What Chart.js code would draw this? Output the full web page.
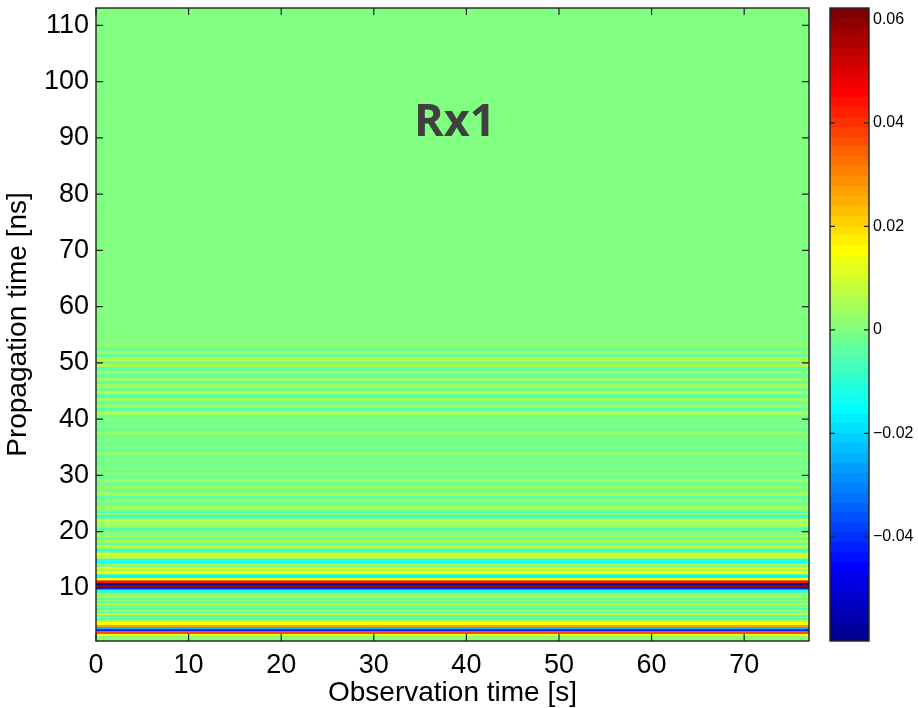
<!DOCTYPE html>
<html>
<head>
<meta charset="utf-8">
<script src="https://cdn.jsdelivr.net/npm/chart.js@4.4.1/dist/chart.umd.min.js"></script>
<style>
  body { margin: 0; background: #fff; }
  #wrap { position: relative; width: 918px; height: 708px; overflow: hidden; }
  #main { position: absolute; left: 0; top: 0; }
  #cbar { position: absolute; left: 820px; top: 0; }
  #rx { position: absolute; left: 414px; top: 96px; font: bold 45px 'Open Sans', sans-serif; line-height: 1; color: #404040; }
</style>
</head>
<body>
<div id="wrap">
  <canvas id="main" width="918" height="708" style="width:918px;height:708px"></canvas>
  <canvas id="cbar" width="98" height="708" style="width:98px;height:708px"></canvas>
  <div id="rx">Rx1</div>
</div>
<script>
// axis ranges
const obsTime = [0, 77];            // observation time window [s]
const delayRange = [0.57, 113.1];   // propagation time axis [ns]
const ampRange = [-0.0601, 0.0622]; // colour limits

const xTicks = [0, 10, 20, 30, 40, 50, 60, 70];
const yTicks = [10, 20, 30, 40, 50, 60, 70, 80, 90, 100, 110];
const cTicks = [-0.04, -0.02, 0, 0.02, 0.04, 0.06];

// impulse response profile: each band starts at the given delay [ns]
// and runs up to the start of the next one
const directStart = [0.57, 1.40, 1.90, 2.30, 2.70, 3.10, 3.40, 3.90, 4.30, 4.60, 4.90, 5.20,
  5.50, 5.80, 6.10, 6.40, 6.70, 7.00, 7.30, 7.60, 7.90, 8.20, 8.50, 8.80, 9.10, 9.40, 9.60,
  9.75, 10.05, 10.55, 10.95, 11.25, 11.45, 11.70, 12.30, 12.55, 13.05, 13.30, 13.70];
const directAmp = [0.002, 0.013, 0.036, -0.041, -0.022, 0.027, 0.015, 0.004, -0.004, 0.005, -0.003, 0.007,
  -0.004, 0.004, -0.005, 0.004, -0.002, 0.005, -0.004, 0.003, -0.004, 0.004, -0.003, 0.004, -0.008, -0.014, -0.025,
  -0.042, 0.057, -0.058, 0.045, 0.032, 0.016, -0.015, -0.006, 0.016, 0.003, 0.011, 0.001];

const echoStart = [14.00, 14.35, 14.65, 14.80, 15.15, 15.40, 15.80, 16.30, 16.60, 17.00, 17.30, 17.70,
  18.00, 18.50, 19.00, 19.50, 20.00, 20.35, 20.70, 21.10, 21.50, 21.80, 22.30, 22.55, 22.90, 23.35,
  23.70, 24.00];
const echoAmp = [0.004, -0.016, -0.003, -0.011, 0.002, 0.007, 0.011, 0.000, -0.010, 0.002, 0.008, -0.004,
  0.003, -0.003, 0.005, 0.001, -0.002, -0.006, 0.002, 0.005, 0.001, 0.009, -0.002, -0.009, 0.002, -0.005,
  0.001, 0.004];

const tailStart = [24.6, 25.2, 25.8, 26.4, 27.0, 27.6, 28.2, 28.8, 29.4, 30.0, 30.6, 31.2, 31.8, 32.4,
  33.0, 33.6, 34.2, 34.8, 35.4, 36.0, 36.6, 37.2, 37.8, 38.4, 39.0, 39.6, 40.2, 40.8, 41.4, 42.0, 42.6,
  43.2, 43.8, 44.4, 45.0, 45.6, 46.2, 46.8, 47.4, 48.0, 48.6, 49.2, 49.8, 50.4, 51.0, 51.6, 52.2, 52.8, 53.4];
const tailAmp = [-0.002, 0.002, -0.003, 0.003, -0.001, 0.002, -0.002, 0.003, -0.002, 0.001, -0.001, 0.001, -0.001, 0.001,
  -0.001, 0.002, -0.001, 0.001, -0.002, 0.001, -0.001, 0.002, -0.001, 0.001, -0.002, 0.001, -0.002, 0.003, -0.003, 0.004, -0.002,
  0.003, -0.003, 0.005, -0.002, 0.003, -0.004, 0.004, -0.003, 0.004, -0.004, 0.005, -0.002, 0.005, -0.003, 0.004, -0.002, 0.002, 0.0005];

const bandStart = directStart.concat(echoStart, tailStart);
const bandAmp = directAmp.concat(echoAmp, tailAmp);

// MATLAB style jet(64) lookup table
const jet64 = [];
(function () {
  const n = 16;
  const u = j => j < 1 ? 0 : j <= n ? j / n : j < 2 * n ? 1 : j < 3 * n ? (3 * n - j) / n : 0;
  for (let k = 1; k <= 64; k++) {
    const r = Math.round(u(k - 24) * 255), g = Math.round(u(k - 8) * 255), b = Math.round(u(k + 8) * 255);
    jet64.push(`rgb(${r},${g},${b})`);
  }
})();

function jetColor(v) {
  let i = Math.floor((v - ampRange[0]) / (ampRange[1] - ampRange[0]) * 64);
  return jet64[Math.max(0, Math.min(63, i))];
}

const FONT = 'Liberation Sans, Arial, sans-serif';

// paints the bands across the whole observation window
const bandsPlugin = {
  id: 'bands',
  beforeDatasetsDraw(chart) {
    const {ctx, chartArea: a, scales: {x, y}} = chart;
    ctx.save();
    ctx.beginPath();
    ctx.rect(a.left, a.top, a.width, a.height);
    ctx.clip();
    const x0 = Math.floor(x.getPixelForValue(obsTime[0]));
    const x1 = Math.ceil(x.getPixelForValue(obsTime[1]));
    bandStart.forEach((s, i) => {
      const e = i + 1 < bandStart.length ? bandStart[i + 1] : delayRange[1];
      const yb = Math.round(y.getPixelForValue(s));
      const yt = Math.round(y.getPixelForValue(e));
      ctx.fillStyle = jetColor(bandAmp[i]);
      ctx.fillRect(x0, yt, x1 - x0, yb - yt);
    });
    ctx.restore();
  }
};

// colour scale strip, one block per colormap entry
const stripPlugin = {
  id: 'strip',
  beforeDatasetsDraw(chart) {
    const {ctx, chartArea: a, scales: {y}} = chart;
    const step = (ampRange[1] - ampRange[0]) / 64;
    ctx.save();
    jet64.forEach((c, i) => {
      const yb = Math.round(y.getPixelForValue(ampRange[0] + i * step));
      const yt = Math.round(y.getPixelForValue(ampRange[0] + (i + 1) * step));
      ctx.fillStyle = c;
      ctx.fillRect(a.left, yt, a.width, yb - yt);
    });
    ctx.restore();
  }
};

// box around the axes with inward tick marks on every side
const boxPlugin = {
  id: 'box',
  afterDraw(chart, args, opts) {
    const {ctx, chartArea: a} = chart;
    ctx.save();
    ctx.strokeStyle = '#222';
    ctx.lineWidth = 1.2;
    ctx.beginPath();
    Object.values(chart.scales).forEach(s => {
      if (!s.options.display) return;
      s.ticks.forEach(t => {
        const p = s.getPixelForValue(t.value);
        if (s.isHorizontal()) {
          ctx.moveTo(p, a.bottom); ctx.lineTo(p, a.bottom - opts.len);
          ctx.moveTo(p, a.top); ctx.lineTo(p, a.top + opts.len);
        } else {
          ctx.moveTo(a.left, p); ctx.lineTo(a.left + opts.len, p);
          ctx.moveTo(a.right, p); ctx.lineTo(a.right - opts.len, p);
        }
      });
    });
    ctx.stroke();
    ctx.lineWidth = 1.4;
    ctx.strokeRect(a.left, a.top, a.width, a.height);
    ctx.restore();
  }
};

const fixTicks = list => s => { s.ticks = list.map(v => ({value: v})); };
const noPad = size => s => {
  if (s.isHorizontal()) s.height = size; else s.width = size;
  s.paddingLeft = s.paddingRight = s.paddingTop = s.paddingBottom = 0;
};

new Chart(document.getElementById('main'), {
  type: 'scatter',
  data: {datasets: []},
  options: {
    responsive: false,
    animation: false,
    layout: {padding: {left: 0, top: 8, right: 109, bottom: 0}},
    plugins: {legend: {display: false}, tooltip: {enabled: false}, box: {len: 7}},
    scales: {
      x: {
        type: 'linear', min: obsTime[0], max: obsTime[1],
        afterBuildTicks: fixTicks(xTicks),
        afterFit: noPad(67),
        grid: {display: false, drawTicks: false}, border: {display: false},
        ticks: {color: '#000', font: {family: FONT, size: 27}, padding: 8, maxRotation: 0, autoSkip: false},
        title: {display: true, text: 'Observation time [s]', color: '#000',
          font: {family: FONT, size: 28, lineHeight: 1}, padding: {top: 0, bottom: 1}}
      },
      y: {
        type: 'linear', min: delayRange[0], max: delayRange[1],
        afterBuildTicks: fixTicks(yTicks),
        afterFit: noPad(96),
        grid: {display: false, drawTicks: false}, border: {display: false},
        ticks: {color: '#000', font: {family: FONT, size: 27}, padding: 7, autoSkip: false},
        title: {display: true, text: 'Propagation time [ns]', color: '#000',
          font: {family: FONT, size: 28, lineHeight: 1}, padding: {top: 4, bottom: 0}}
      }
    }
  },
  plugins: [bandsPlugin, boxPlugin]
});

new Chart(document.getElementById('cbar'), {
  type: 'scatter',
  data: {datasets: []},
  options: {
    responsive: false,
    animation: false,
    layout: {padding: {left: 10, top: 8, right: 0, bottom: 67}},
    plugins: {legend: {display: false}, tooltip: {enabled: false}, box: {len: 5}},
    scales: {
      x: {type: 'linear', display: false, afterFit: noPad(0)},
      y: {
        type: 'linear', position: 'right', min: ampRange[0], max: ampRange[1],
        afterBuildTicks: fixTicks(cTicks),
        afterFit: noPad(49),
        grid: {display: false, drawTicks: false}, border: {display: false},
        ticks: {color: '#000', font: {family: FONT, size: 16}, padding: 4, autoSkip: false,
          callback: v => v === 0 ? '0' : (v < 0 ? '\u2212' : '') + Math.abs(v).toFixed(2)}
      }
    }
  },
  plugins: [stripPlugin, boxPlugin]
});
</script>
</body>
</html>
